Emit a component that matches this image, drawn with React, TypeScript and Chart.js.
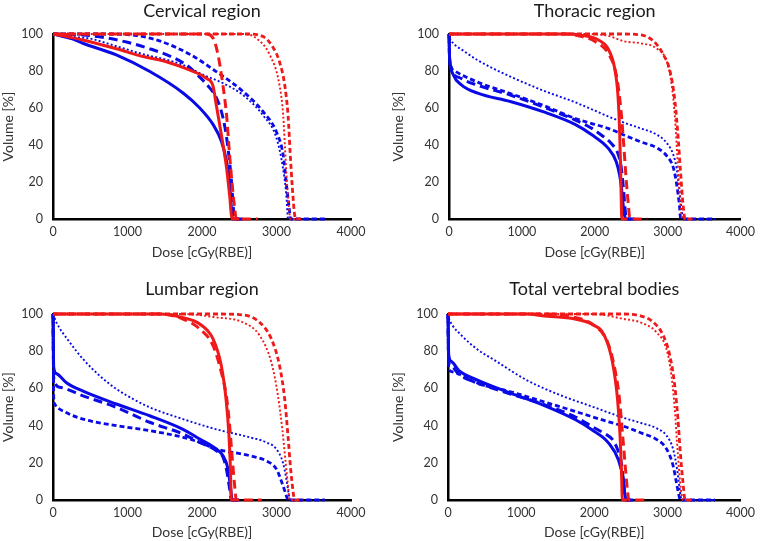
import React, { useEffect, useRef } from "react";
import { Chart, registerables } from "chart.js";

Chart.register(...registerables);

type P = [number, number];

// ---------- axis ticks ----------
const doseTicks = [0, 1000, 2000, 3000, 4000];
const volumeTicks = [0, 20, 40, 60, 80, 100];
const panelTitles = ["Cervical region", "Thoracic region", "Lumbar region", "Total vertebral bodies"];

// ---------- Cervical region ----------
const cervBlueSolid: P[] = [[0,100],[250,97.5],[400,95],[850,88.7],[1300,79.7],[1750,68],[1970,60],[2150,51],[2260,42],[2330,31],[2370,18.5],[2395,6],[2410,0],[2500,0]];
const cervBlueLong: P[] = [[0,100],[400,99.5],[700,98],[1000,95.5],[1300,92],[1600,87.5],[1800,83],[1950,77.5],[2100,71],[2200,65],[2280,55],[2330,44],[2370,31],[2400,18],[2420,6],[2440,0],[2550,0]];
const cervBlueShort: P[] = [[0,100],[700,100],[1100,99.3],[1450,96],[1850,88.7],[2190,79.7],[2550,69],[2820,58],[3000,47],[3090,34.5],[3130,20],[3170,6],[3190,0],[3650,0]];
const cervBlueDot: P[] = [[0,100],[250,98.5],[500,97.5],[800,94],[1165,89.6],[1745,83.3],[2013,78],[2282,73.4],[2550,67],[2820,56],[3000,43.7],[3087,27.5],[3132,13],[3155,0],[3650,0]];
const cervRedSolid: P[] = [[0,100],[400,96.8],[850,92],[1210,87.8],[1520,85],[1830,80.6],[2060,76],[2150,71.6],[2190,62],[2260,45.5],[2330,27.5],[2370,13],[2405,0],[2500,0]];
const cervRedLong: P[] = [[0,100],[2050,100],[2150,97.7],[2215,88.7],[2280,72.5],[2330,56],[2370,34.7],[2405,18.5],[2438,6],[2460,0],[2750,0]];
const cervRedShort: P[] = [[0,100],[2600,100],[2820,98.6],[2950,93],[3040,85],[3110,72.5],[3155,56],[3185,34.7],[3213,16.7],[3244,2],[3260,0],[3350,0]];
const cervRedDot: P[] = [[0,100],[2550,100],[2730,97.7],[2910,88.7],[3040,72.5],[3090,56],[3115,38],[3140,20],[3168,6],[3186,0],[3300,0]];

// ---------- Thoracic region ----------
const thorBlueSolid: P[] = [[0,100],[5,90],[13,85],[58,78],[170,72.5],[394,68],[841,63.5],[1289,58],[1736,51],[1960,45.5],[2183,38.3],[2295,31],[2340,24],[2362,18.5],[2385,9.5],[2407,2.3],[2430,0],[2500,0]];
const thorBlueLong: P[] = [[0,100],[5,90],[13,84],[36,80.4],[170,75.9],[394,72.3],[841,67],[1289,60.6],[1736,53.4],[1960,49],[2094,45.3],[2228,40.8],[2318,35.4],[2362,28.2],[2395,16],[2415,6],[2435,0],[2550,0]];
const thorBlueShort: P[] = [[0,100],[5,91],[13,85],[80,80],[394,74],[841,67.8],[1289,61.5],[1736,54.3],[1960,51.6],[2183,49],[2407,45.3],[2631,41.7],[2850,38.5],[2990,34],[3080,27.5],[3125,18.5],[3160,8],[3180,0],[3650,0]];
const thorBlueDot: P[] = [[0,100],[10,98],[60,95],[215,90.5],[394,85.8],[841,77],[1289,69.5],[1736,63],[2183,55.5],[2407,52],[2631,49],[2855,45.5],[2990,41],[3078,34.7],[3123,27.5],[3159,16.7],[3190,6],[3213,0],[3650,0]];
const thorRedSolid: P[] = [[0,100],[1650,100],[1870,99],[2050,96.8],[2183,92],[2273,81.5],[2318,67],[2340,49],[2353,31],[2362,13],[2371,0],[2450,0]];
const thorRedLong: P[] = [[0,100],[1600,100],[1826,98.6],[2004,96],[2183,89.6],[2295,78],[2362,58],[2398,40],[2430,22],[2461,7.7],[2483,0],[2720,0]];
const thorRedShort: P[] = [[0,100],[2360,100],[2631,99.5],[2810,96],[2944,88.7],[3034,79.7],[3101,63.5],[3145,43.7],[3177,25.7],[3204,11.3],[3240,0],[3350,0]];
const thorRedDot: P[] = [[0,100],[1900,100],[2183,99],[2407,96],[2631,95],[2855,92],[2990,85],[3056,72.5],[3101,54.5],[3132,34.7],[3159,16.7],[3190,2.3],[3210,0],[3300,0]];

// ---------- Lumbar region ----------
const lumbBlueSolid: P[] = [[0,100],[4,85],[9,71.5],[45,68],[180,63],[403,58.5],[850,51.6],[1298,45.3],[1745,38],[1969,32.8],[2192,27.4],[2282,23.8],[2349,16.7],[2380,7.7],[2407,0],[2500,0]];
const lumbBlueLong: P[] = [[0,100],[4,80],[9,66],[90,60.6],[403,56],[850,49.8],[1298,41.8],[1745,35.5],[1969,31],[2192,26.5],[2282,23],[2327,16.7],[2371,6],[2394,0],[2500,0]];
const lumbBlueShort: P[] = [[0,100],[5,75],[10,55],[22,51.6],[179,47],[403,43.5],[850,40],[1298,37.3],[1745,33.7],[1969,31],[2192,27.4],[2416,25.6],[2640,23.8],[2864,21],[2998,16.7],[3087,7.7],[3132,2.3],[3154,0],[3650,0]];
const lumbBlueDot: P[] = [[0,100],[45,95.5],[224,84.8],[403,75.8],[626,66.8],[850,59.7],[1074,54.3],[1298,49.8],[1745,43.5],[2192,38],[2640,33.7],[2864,31],[2998,27.4],[3087,20],[3132,11.3],[3168,2.3],[3186,0],[3650,0]];
const lumbRedSolid: P[] = [[0,100],[1430,100],[1745,98],[1969,94.6],[2148,86.6],[2260,72],[2327,52.5],[2362,34.6],[2380,18.5],[2394,0],[2450,0]];
const lumbRedLong: P[] = [[0,100],[1430,100],[1745,97.3],[1969,92],[2148,83],[2260,68.6],[2327,56],[2371,40],[2407,22],[2438,7.7],[2461,0],[2800,0]];
const lumbRedShort: P[] = [[0,100],[2192,100],[2550,99.5],[2774,95.5],[2931,86.6],[3042,72],[3110,54.3],[3154,34.6],[3186,18.5],[3221,5],[3244,0],[3350,0]];
const lumbRedDot: P[] = [[0,100],[1745,100],[2192,98.2],[2550,95.5],[2774,88.4],[2931,74],[3020,56],[3078,38],[3123,20],[3159,6],[3177,0],[3300,0]];

// ---------- Total vertebral bodies ----------
const totBlueSolid: P[] = [[0,100],[4,88],[10,78],[50,74.4],[150,69.5],[403,64.5],[855,57.5],[1302,51],[1750,43],[1973,37.6],[2197,30.6],[2331,21.5],[2398,10.7],[2420,3],[2435,0],[2500,0]];
const totBlueLong: P[] = [[0,100],[4,84],[10,74],[50,71.7],[150,67.5],[403,63],[855,57],[1302,51.5],[1750,44.5],[1973,39.4],[2150,35.5],[2250,32.5],[2320,27],[2370,20],[2400,10],[2425,0],[2550,0]];
const totBlueShort: P[] = [[0,100],[4,80],[10,71],[50,69],[403,62.7],[855,58.2],[1302,52.9],[1750,47.5],[2197,42],[2420,39.4],[2644,36],[2855,32.5],[2989,27.4],[3078,18.5],[3123,9.5],[3159,2.3],[3177,0],[3650,0]];
const totBlueDot: P[] = [[0,100],[10,98],[60,94],[184,88.5],[400,81],[631,75.3],[1074,64.5],[1526,56.5],[1973,50.2],[2416,44],[2640,41.4],[2855,38.5],[2989,34.6],[3078,27.4],[3132,16.7],[3168,6],[3195,0],[3650,0]];
const totRedSolid: P[] = [[0,100],[1100,100],[1289,99],[1736,97.3],[1960,94.6],[2139,88.4],[2250,74],[2318,54.3],[2353,34.6],[2371,16.7],[2385,0],[2450,0]];
const totRedLong: P[] = [[0,100],[1300,100],[1736,98.2],[2004,93.7],[2183,84.8],[2273,72],[2340,56],[2385,36.4],[2420,20],[2452,6],[2474,0],[2750,0]];
const totRedShort: P[] = [[0,100],[2362,100],[2631,99],[2810,95.5],[2944,88.4],[3034,77.6],[3101,61.5],[3145,43.5],[3177,25.6],[3213,9.5],[3244,0],[3350,0]];
const totRedDot: P[] = [[0,100],[2000,100],[2407,97.3],[2631,95.5],[2855,90],[2989,81],[3056,66.8],[3101,49],[3132,31],[3159,16.7],[3190,4],[3213,0],[3300,0]];

const BLUE = "rgb(10,10,230)";
const RED = "rgb(240,25,25)";

const styles: Record<string, { dash: number[]; width: number }> = {
  solid: { dash: [], width: 3 },
  long: { dash: [9, 5], width: 3 },
  short: { dash: [5, 3], width: 2.8 },
  dot: { dash: [2, 2.2], width: 1.9 },
};

type SeriesDef = { data: P[]; color: string; style: string };

const panelSeries: SeriesDef[][] = [
  [
    { data: cervRedDot, color: RED, style: "dot" },
    { data: cervRedShort, color: RED, style: "short" },
    { data: cervRedLong, color: RED, style: "long" },
    { data: cervRedSolid, color: RED, style: "solid" },
    { data: cervBlueDot, color: BLUE, style: "dot" },
    { data: cervBlueShort, color: BLUE, style: "short" },
    { data: cervBlueLong, color: BLUE, style: "long" },
    { data: cervBlueSolid, color: BLUE, style: "solid" },
  ],
  [
    { data: thorRedDot, color: RED, style: "dot" },
    { data: thorRedShort, color: RED, style: "short" },
    { data: thorRedLong, color: RED, style: "long" },
    { data: thorRedSolid, color: RED, style: "solid" },
    { data: thorBlueDot, color: BLUE, style: "dot" },
    { data: thorBlueShort, color: BLUE, style: "short" },
    { data: thorBlueLong, color: BLUE, style: "long" },
    { data: thorBlueSolid, color: BLUE, style: "solid" },
  ],
  [
    { data: lumbRedDot, color: RED, style: "dot" },
    { data: lumbRedShort, color: RED, style: "short" },
    { data: lumbRedLong, color: RED, style: "long" },
    { data: lumbRedSolid, color: RED, style: "solid" },
    { data: lumbBlueDot, color: BLUE, style: "dot" },
    { data: lumbBlueShort, color: BLUE, style: "short" },
    { data: lumbBlueLong, color: BLUE, style: "long" },
    { data: lumbBlueSolid, color: BLUE, style: "solid" },
  ],
  [
    { data: totRedDot, color: RED, style: "dot" },
    { data: totRedShort, color: RED, style: "short" },
    { data: totRedLong, color: RED, style: "long" },
    { data: totRedSolid, color: RED, style: "solid" },
    { data: totBlueDot, color: BLUE, style: "dot" },
    { data: totBlueShort, color: BLUE, style: "short" },
    { data: totBlueLong, color: BLUE, style: "long" },
    { data: totBlueSolid, color: BLUE, style: "solid" },
  ],
];

// canvas boxes and plot-frame geometry
const boxes = [
  { left: 0, top: 0, w: 380, h: 270, yAxisW: 53, xAxisH: 51, padRight: 29, titleTop: 0, titleBottom: 12.4, yTitlePad: 0, xTitlePad: 9.6 },
  { left: 380, top: 0, w: 380, h: 270, yAxisW: 69, xAxisH: 51, padRight: 13, titleTop: 0, titleBottom: 12.4, yTitlePad: 10, xTitlePad: 9.6 },
  { left: 0, top: 270, w: 380, h: 271, yAxisW: 53, xAxisH: 41, padRight: 29, titleTop: 8, titleBottom: 14.4, yTitlePad: 0, xTitlePad: 0 },
  { left: 380, top: 270, w: 380, h: 271, yAxisW: 68, xAxisH: 41, padRight: 13, titleTop: 8, titleBottom: 14.4, yTitlePad: 10, xTitlePad: 0 },
];

const FONT = "Lato, 'Open Sans', sans-serif";
const TEXT = "#333333";

function Panel({ idx }: { idx: number }) {
  const ref = useRef<HTMLCanvasElement | null>(null);
  useEffect(() => {
    if (!ref.current) return;
    const b = boxes[idx];
    const chart = new Chart(ref.current, {
      type: "line",
      data: {
        datasets: panelSeries[idx].map((s) => ({
          data: s.data.map(([x, y]) => ({ x, y })),
          borderColor: s.color,
          backgroundColor: s.color,
          borderWidth: styles[s.style].width,
          borderDash: styles[s.style].dash,
          pointRadius: 0,
          fill: false,
          cubicInterpolationMode: "monotone" as const,
          clip: 6,
        })),
      },
      options: {
        animation: false,
        responsive: false,
        maintainAspectRatio: false,
        layout: { padding: { left: 0, right: b.padRight, top: 0, bottom: 0 } },
        plugins: {
          legend: { display: false },
          tooltip: { enabled: false },
          title: {
            display: true,
            text: panelTitles[idx],
            fullSize: false,
            color: "#1a1a1a",
            font: { family: FONT, size: 18, weight: "normal" },
            padding: { top: b.titleTop, bottom: b.titleBottom },
          },
        },
        scales: {
          x: {
            type: "linear",
            min: doseTicks[0],
            max: doseTicks[doseTicks.length - 1],
            afterBuildTicks: (sc: any) => {
              sc.ticks = doseTicks.map((v) => ({ value: v }));
            },
            afterFit: (sc: any) => {
              sc.height = b.xAxisH;
            },
            grid: { display: false, drawTicks: false },
            border: { display: true, color: "#000", width: 2.5 },
            ticks: {
              color: TEXT,
              font: { family: FONT, size: 12.5 },
              padding: 5,
              maxRotation: 0,
              autoSkip: false,
              callback: (v: any) => String(v),
            },
            title: {
              display: true,
              text: "Dose [cGy(RBE)]",
              color: TEXT,
              font: { family: FONT, size: 14 },
              padding: { top: 0, bottom: b.xTitlePad },
            },
          },
          y: {
            type: "linear",
            min: volumeTicks[0],
            max: volumeTicks[volumeTicks.length - 1],
            afterBuildTicks: (sc: any) => {
              sc.ticks = volumeTicks.map((v) => ({ value: v }));
            },
            afterFit: (sc: any) => {
              sc.width = b.yAxisW;
            },
            grid: { display: false, drawTicks: false },
            border: { display: true, color: "#000", width: 2.5 },
            ticks: {
              color: TEXT,
              font: { family: FONT, size: 12.5 },
              padding: 10,
              autoSkip: false,
              callback: (v: any) => String(v),
            },
            title: {
              display: true,
              text: "Volume [%]",
              color: TEXT,
              font: { family: FONT, size: 14 },
              padding: { top: b.yTitlePad, bottom: 0 },
            },
          },
        },
      },
    } as any);
    return () => chart.destroy();
  }, [idx]);
  const b = boxes[idx];
  return (
    <canvas
      ref={ref}
      width={b.w}
      height={b.h}
      style={{ position: "absolute", left: b.left, top: b.top, width: b.w, height: b.h }}
    />
  );
}

export default function App() {
  return (
    <div style={{ position: "absolute", left: 0, top: 0, width: 760, height: 541, background: "#fff" }}>
      {[0, 1, 2, 3].map((i) => (
        <Panel key={i} idx={i} />
      ))}
    </div>
  );
}
